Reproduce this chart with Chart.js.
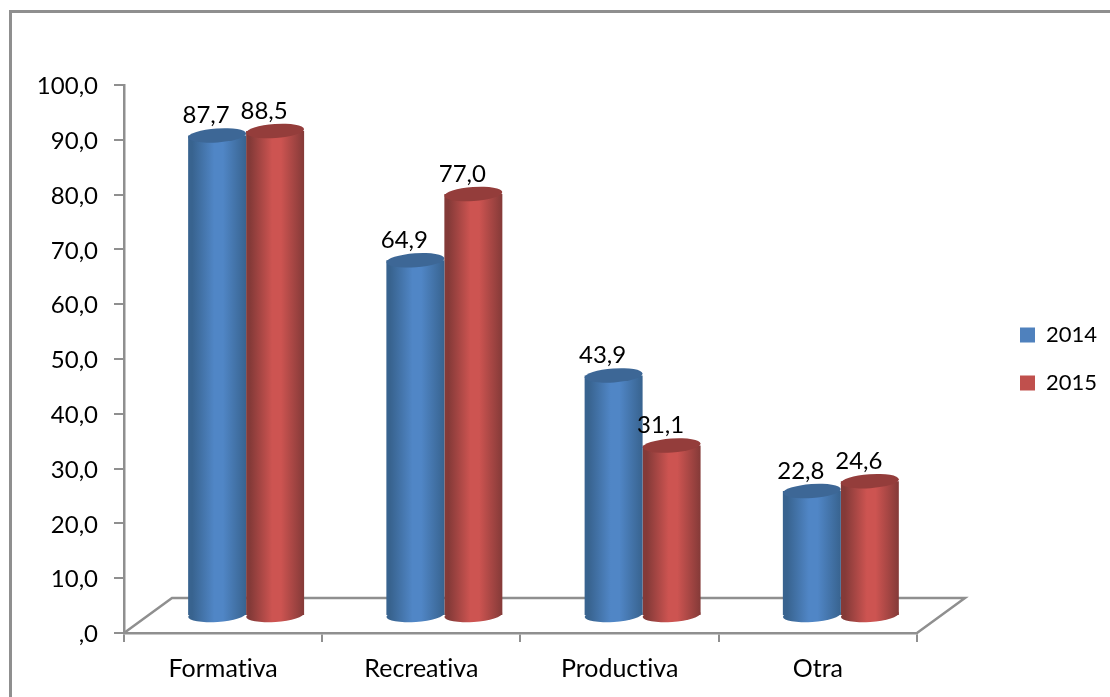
<!DOCTYPE html>
<html>
<head>
<meta charset="utf-8">
<title>Actividad</title>
<script src="https://cdn.jsdelivr.net/npm/chart.js@4.4.0/dist/chart.umd.min.js"></script>
<style>
  html, body { margin: 0; background: #fff; overflow: hidden; }
  #wrap { position: absolute; left: 0; top: 0; width: 1110px; height: 697px; filter: blur(0.4px); }
  #frame { position: absolute; left: 9px; top: 10px; right: 0; bottom: 0; border-left: 3px solid #8f8f8f; border-top: 3px solid #8f8f8f; }
  canvas { position: absolute; left: 0; top: 0; }
</style>
</head>
<body>
<div id="wrap">
  <div id="frame"></div>
  <canvas id="chart" width="1110" height="697"></canvas>
</div>
<script>
const categories = ['Formativa', 'Recreativa', 'Productiva', 'Otra'];
const values2014 = [87.7, 64.9, 43.9, 22.8];
const values2015 = [88.5, 77.0, 31.1, 24.6];
const seriesNames = ['2014', '2015'];
const yTicks = [0, 10, 20, 30, 40, 50, 60, 70, 80, 90, 100];

const FONT = { family: 'Lato', size: 24 };
const X_FONT = { family: 'Lato', size: 25 };
const LEGEND_FONT = { family: 'Lato', size: 22 };
const AXIS_COLOR = '#8f8f8f';
const BAR_SHARE = 0.585;
const BAR_SHIFT = { x: 23, y: -17 };   // bars sit inside the 3d floor
const FLOOR = { x: 48, y: -35 };
const TOP_RY = 7;
const TILT = -0.07;

const PALETTE = [
  { flat: '#4f81bd', edge: '#38638f', mid: '#5086c6', cap: '#3d6796' },
  { flat: '#c0504d', edge: '#843a38', mid: '#cd5451', cap: '#943d3b' }
];

// comma decimals, and the zero shows as ",0" like the original
function fmt(v) {
  return v === 0 ? ',0' : v.toFixed(1).replace('.', ',');
}

function barFill(ctx) {
  const p = PALETTE[ctx.datasetIndex];
  const scale = ctx.chart.scales.x;
  if (!scale) return p.flat;
  const band = scale.width / categories.length;
  const w = band * BAR_SHARE / 2;
  const cx = scale.getPixelForValue(ctx.dataIndex) + (ctx.datasetIndex - 0.5) * w;
  if (!isFinite(cx) || !isFinite(w)) return p.flat;  // first pass runs before layout
  const g = ctx.chart.ctx.createLinearGradient(cx - w / 2, 0, cx + w / 2, 0);
  g.addColorStop(0, p.edge);
  g.addColorStop(0.07, p.edge);
  g.addColorStop(0.45, p.mid);
  g.addColorStop(0.6, p.mid);
  g.addColorStop(1, p.edge);
  return g;
}

function ellipse(c, x, y, rx, fill) {
  c.beginPath();
  c.ellipse(x, y, rx, TOP_RY, TILT, 0, Math.PI * 2);
  c.fillStyle = fill;
  c.fill();
}

const cylinderPlugin = {
  id: 'cylinder',
  afterLayout(chart) {
    // legend goes to the far right and up, level with the plot centre
    const lg = chart.legend;
    lg.left = 994;
    lg.right = 1110;
    lg.top -= 32;
    lg.bottom -= 32;
  },
  beforeDraw(chart) {
    chart.ctx.textRendering = 'optimizeSpeed';  // no "ti" ligature
  },
  beforeDatasetsDraw(chart) {
    const c = chart.ctx, a = chart.chartArea;
    c.save();
    c.strokeStyle = AXIS_COLOR;
    c.lineWidth = 2.5;
    c.beginPath();
    c.moveTo(a.left, a.bottom);
    c.lineTo(a.left + FLOOR.x, a.bottom + FLOOR.y);
    c.lineTo(a.right + FLOOR.x, a.bottom + FLOOR.y);
    c.lineTo(a.right, a.bottom);
    c.stroke();
    c.restore();
  },
  beforeDatasetDraw(chart, args) {
    const c = chart.ctx;
    c.save();
    c.translate(BAR_SHIFT.x, BAR_SHIFT.y);
    args.meta.data.forEach(el => {
      ellipse(c, el.x, el.base, el.width / 2, el.options.backgroundColor);
    });
  },
  afterDatasetDraw(chart, args) {
    const c = chart.ctx;
    const p = PALETTE[args.index];
    args.meta.data.forEach(el => {
      ellipse(c, el.x, el.y, el.width / 2, p.cap);
    });
    c.restore();
  },
  afterDatasetsDraw(chart) {
    const c = chart.ctx;
    c.save();
    c.translate(BAR_SHIFT.x, BAR_SHIFT.y);
    c.font = FONT.size + 'px ' + FONT.family;
    c.fillStyle = '#000';
    c.textAlign = 'center';
    c.textBaseline = 'middle';
    chart.data.datasets.forEach((ds, i) => {
      chart.getDatasetMeta(i).data.forEach((el, j) => {
        c.fillText(fmt(ds.data[j]), el.x - 11, el.y - 20);
      });
    });
    c.restore();
  }
};

new Chart(document.getElementById('chart'), {
  type: 'bar',
  plugins: [cylinderPlugin],
  data: {
    labels: categories,
    datasets: [
      { label: seriesNames[0], data: values2014, backgroundColor: barFill, clip: false },
      { label: seriesNames[1], data: values2015, backgroundColor: barFill, clip: false }
    ]
  },
  options: {
    responsive: false,
    animation: false,
    events: [],
    categoryPercentage: BAR_SHARE,
    barPercentage: 1,
    layout: { padding: { top: 85, left: 0, right: 80, bottom: 0 } },
    plugins: {
      tooltip: { enabled: false },
      legend: {
        position: 'right',
        labels: {
          color: '#000', font: LEGEND_FONT, boxWidth: 15, boxHeight: 15, padding: 26,
          generateLabels: chart => Chart.defaults.plugins.legend.labels.generateLabels(chart)
            .map((item, i) => Object.assign(item, { fillStyle: PALETTE[i].flat, lineWidth: 0 }))
        }
      }
    },
    scales: {
      x: {
        afterFit: s => { s.height = 64; },
        grid: { drawOnChartArea: false, color: AXIS_COLOR, tickLength: 9, lineWidth: 2 },
        border: { color: AXIS_COLOR, width: 2.5 },
        ticks: { color: '#000', font: X_FONT, padding: 12, maxRotation: 0 }
      },
      y: {
        min: 0,
        max: 100,
        afterFit: s => { s.width = 124; },
        afterBuildTicks: s => { s.ticks = yTicks.map(v => ({ value: v })); },
        grid: { drawOnChartArea: false, color: AXIS_COLOR, tickLength: 10, lineWidth: 2 },
        border: { color: AXIS_COLOR, width: 2.5 },
        ticks: { color: '#000', font: FONT, padding: 16, labelOffset: 1.5, callback: v => fmt(v) }
      }
    }
  }
});
</script>
</body>
</html>
